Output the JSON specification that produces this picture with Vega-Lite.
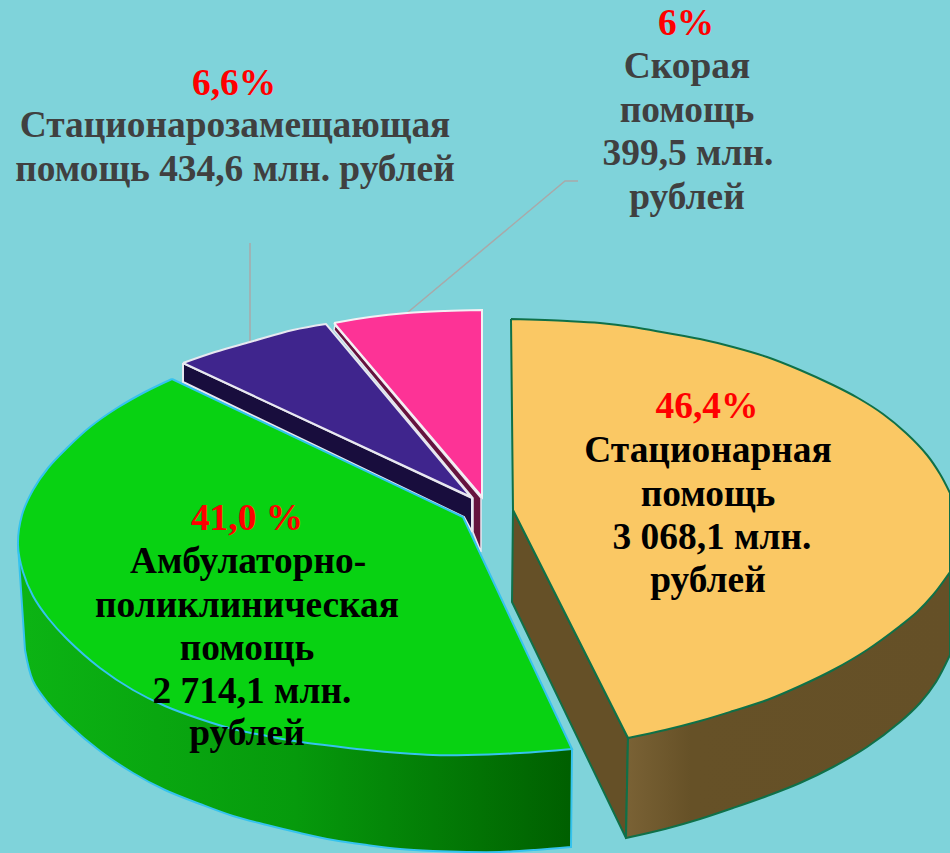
{"$schema":"https://vega.github.io/schema/vega-lite/v6.json","width":950,"height":853,"padding":0,"autosize":{"type":"none"},"background":"#7fd3da","config":{"view":{"stroke":null}},
"encoding":{"x":{"field":"x","type":"quantitative","scale":{"domain":[0,950],"nice":false,"zero":false},"axis":null},"y":{"field":"y","type":"quantitative","scale":{"domain":[853,0],"nice":false,"zero":false},"axis":null},"order":{"field":"i","type":"quantitative"}},
"layer":[
{"mark":{"type":"line","stroke":"#a9a9a9","strokeWidth":1.5},"encoding":{"detail":{"field":"s"}},"data":{"values":[{"s":"a","i":1,"x":250,"y":243},{"s":"a","i":2,"x":250,"y":342},{"s":"b","i":1,"x":578,"y":181},{"s":"b","i":2,"x":565,"y":181},{"s":"b","i":3,"x":407,"y":313}]}},
{"mark":{"type":"line","interpolate":"catmull-rom","strokeWidth":2,"stroke":"#35c3ee","fill":{"gradient":"linear","x1":0,"y1":0,"x2":1,"y2":0,"stops":[{"offset":0,"color":"#0cb414"},{"offset":0.5,"color":"#069a0c"},{"offset":1,"color":"#005f00"}]}},"data":{"values":[{"i":1,"x":18,"y":545},{"i":2,"x":18,"y":545},{"i":3,"x":25,"y":650},{"i":4,"x":25,"y":650},{"i":5,"x":33,"y":681},{"i":6,"x":48,"y":703},{"i":7,"x":67,"y":723},{"i":8,"x":100,"y":751},{"i":9,"x":133,"y":773},{"i":10,"x":165,"y":790},{"i":11,"x":200,"y":804},{"i":12,"x":233,"y":816},{"i":13,"x":267,"y":825},{"i":14,"x":300,"y":833},{"i":15,"x":333,"y":840},{"i":16,"x":367,"y":845},{"i":17,"x":400,"y":849},{"i":18,"x":433,"y":851},{"i":19,"x":467,"y":852},{"i":20,"x":500,"y":852},{"i":21,"x":535,"y":850},{"i":22,"x":571,"y":847},{"i":23,"x":571,"y":847},{"i":24,"x":572,"y":749},{"i":25,"x":572,"y":749},{"i":26,"x":18,"y":545},{"i":27,"x":18,"y":545}]}},
{"mark":{"type":"line","strokeWidth":2,"stroke":"#0f7048","fill":"#655027"},"data":{"values":[{"i":1,"x":513,"y":510},{"i":2,"x":628,"y":738},{"i":3,"x":626,"y":838},{"i":4,"x":512,"y":602},{"i":5,"x":513,"y":510}]}},
{"mark":{"type":"line","interpolate":"catmull-rom","strokeWidth":2,"stroke":"#0f7048","fill":{"gradient":"linear","x1":0,"y1":0,"x2":1,"y2":0,"stops":[{"offset":0,"color":"#7a6235"},{"offset":0.2,"color":"#665127"},{"offset":1,"color":"#655027"}]}},"data":{"values":[{"i":1,"x":950,"y":572},{"i":2,"x":950,"y":572},{"i":3,"x":628,"y":738},{"i":4,"x":628,"y":738},{"i":5,"x":626,"y":838},{"i":6,"x":626,"y":838},{"i":7,"x":665,"y":829},{"i":8,"x":700,"y":819},{"i":9,"x":733,"y":808},{"i":10,"x":767,"y":796},{"i":11,"x":800,"y":783},{"i":12,"x":833,"y":767},{"i":13,"x":867,"y":747},{"i":14,"x":900,"y":722},{"i":15,"x":920,"y":703},{"i":16,"x":936,"y":682},{"i":17,"x":950,"y":655},{"i":18,"x":950,"y":655},{"i":19,"x":950,"y":572},{"i":20,"x":950,"y":572}]}},
{"mark":{"type":"line","strokeWidth":2,"stroke":"#e8e8f0","fill":"#180d3d"},"data":{"values":[{"i":1,"x":183,"y":363},{"i":2,"x":472,"y":498},{"i":3,"x":472,"y":532},{"i":4,"x":464,"y":517},{"i":5,"x":183,"y":382},{"i":6,"x":183,"y":363}]}},
{"mark":{"type":"line","strokeWidth":1.5,"stroke":"#e8e8f0","fill":"#66133e"},"data":{"values":[{"i":1,"x":335,"y":325},{"i":2,"x":481,"y":498},{"i":3,"x":481,"y":552},{"i":4,"x":473,"y":532},{"i":5,"x":473,"y":498},{"i":6,"x":334,"y":330},{"i":7,"x":335,"y":325}]}},
{"mark":{"type":"line","interpolate":"catmull-rom","strokeWidth":2,"stroke":"#35c3ee","fill":"#08d212"},"data":{"values":[{"i":1,"x":172,"y":379},{"i":2,"x":172,"y":379},{"i":3,"x":463,"y":517},{"i":4,"x":463,"y":517},{"i":5,"x":572,"y":749},{"i":6,"x":572,"y":749},{"i":7,"x":520,"y":753},{"i":8,"x":467,"y":755},{"i":9,"x":433,"y":755},{"i":10,"x":400,"y":753},{"i":11,"x":367,"y":750},{"i":12,"x":333,"y":746},{"i":13,"x":300,"y":742},{"i":14,"x":267,"y":736},{"i":15,"x":233,"y":729},{"i":16,"x":200,"y":719},{"i":17,"x":165,"y":706},{"i":18,"x":133,"y":690},{"i":19,"x":100,"y":668},{"i":20,"x":67,"y":639},{"i":21,"x":48,"y":618},{"i":22,"x":33,"y":596},{"i":23,"x":23,"y":572},{"i":24,"x":18,"y":545},{"i":25,"x":22,"y":515},{"i":26,"x":33,"y":490},{"i":27,"x":48,"y":468},{"i":28,"x":67,"y":448},{"i":29,"x":90,"y":427},{"i":30,"x":117,"y":408},{"i":31,"x":145,"y":392},{"i":32,"x":172,"y":379},{"i":33,"x":172,"y":379}]}},
{"mark":{"type":"line","interpolate":"catmull-rom","strokeWidth":2,"stroke":"#e8e8f0","fill":"#3f258d"},"data":{"values":[{"i":1,"x":183,"y":363},{"i":2,"x":183,"y":363},{"i":3,"x":215,"y":352},{"i":4,"x":250,"y":342},{"i":5,"x":293,"y":330},{"i":6,"x":326,"y":324},{"i":7,"x":326,"y":324},{"i":8,"x":471,"y":497},{"i":9,"x":471,"y":497},{"i":10,"x":183,"y":363},{"i":11,"x":183,"y":363}]}},
{"mark":{"type":"line","interpolate":"catmull-rom","strokeWidth":2,"stroke":"#f4f0f4","fill":"#fd3396"},"data":{"values":[{"i":1,"x":334,"y":323},{"i":2,"x":334,"y":323},{"i":3,"x":370,"y":317},{"i":4,"x":407,"y":313},{"i":5,"x":445,"y":311},{"i":6,"x":482,"y":310},{"i":7,"x":482,"y":310},{"i":8,"x":482,"y":497},{"i":9,"x":482,"y":497},{"i":10,"x":334,"y":323},{"i":11,"x":334,"y":323}]}},
{"mark":{"type":"line","interpolate":"catmull-rom","strokeWidth":2,"stroke":"#0f7048","fill":"#fac864"},"data":{"values":[{"i":1,"x":511,"y":319},{"i":2,"x":511,"y":319},{"i":3,"x":567,"y":321},{"i":4,"x":600,"y":323},{"i":5,"x":633,"y":327},{"i":6,"x":667,"y":333},{"i":7,"x":700,"y":339},{"i":8,"x":733,"y":347},{"i":9,"x":767,"y":357},{"i":10,"x":800,"y":370},{"i":11,"x":833,"y":385},{"i":12,"x":858,"y":398},{"i":13,"x":883,"y":414},{"i":14,"x":906,"y":433},{"i":15,"x":927,"y":455},{"i":16,"x":940,"y":474},{"i":17,"x":950,"y":493},{"i":18,"x":950,"y":493},{"i":19,"x":950,"y":572},{"i":20,"x":950,"y":572},{"i":21,"x":933,"y":595},{"i":22,"x":917,"y":612},{"i":23,"x":900,"y":626},{"i":24,"x":867,"y":650},{"i":25,"x":833,"y":670},{"i":26,"x":800,"y":686},{"i":27,"x":767,"y":700},{"i":28,"x":733,"y":711},{"i":29,"x":700,"y":721},{"i":30,"x":665,"y":730},{"i":31,"x":628,"y":738},{"i":32,"x":628,"y":738},{"i":33,"x":513,"y":510},{"i":34,"x":513,"y":510},{"i":35,"x":511,"y":319},{"i":36,"x":511,"y":319}]}},
{"mark":{"type":"text","font":"Liberation Serif","fontWeight":"bold","fontSize":37.4,"align":"center","baseline":"alphabetic"},"encoding":{"text":{"field":"t"},"color":{"field":"c","type":"nominal","scale":null}},"data":{"values":[
{"t":"6,6%","x":234,"y":95,"c":"#ff0000"},
{"t":"Стационарозамещающая","x":235,"y":137,"c":"#404040"},
{"t":"помощь 434,6 млн. рублей","x":235,"y":181,"c":"#404040"},
{"t":"6%","x":686,"y":35,"c":"#ff0000"},
{"t":"Скорая","x":687,"y":78,"c":"#404040"},
{"t":"помощь","x":687,"y":122,"c":"#404040"},
{"t":"399,5 млн.","x":688,"y":165,"c":"#404040"},
{"t":"рублей","x":687,"y":209,"c":"#404040"},
{"t":"46,4%","x":707,"y":418,"c":"#ff0000"},
{"t":"Стационарная","x":708,"y":462,"c":"#000000"},
{"t":"помощь","x":708,"y":506,"c":"#000000"},
{"t":"3 068,1 млн.","x":712,"y":549,"c":"#000000"},
{"t":"рублей","x":708,"y":592,"c":"#000000"},
{"t":"41,0 %","x":247,"y":530,"c":"#ff0000"},
{"t":"Амбулаторно-","x":248,"y":573,"c":"#000000"},
{"t":"поликлиническая","x":247,"y":617,"c":"#000000"},
{"t":"помощь","x":247,"y":660,"c":"#000000"},
{"t":"2 714,1 млн.","x":252,"y":703,"c":"#000000"},
{"t":"рублей","x":247,"y":745,"c":"#000000"}
]}}
]}
